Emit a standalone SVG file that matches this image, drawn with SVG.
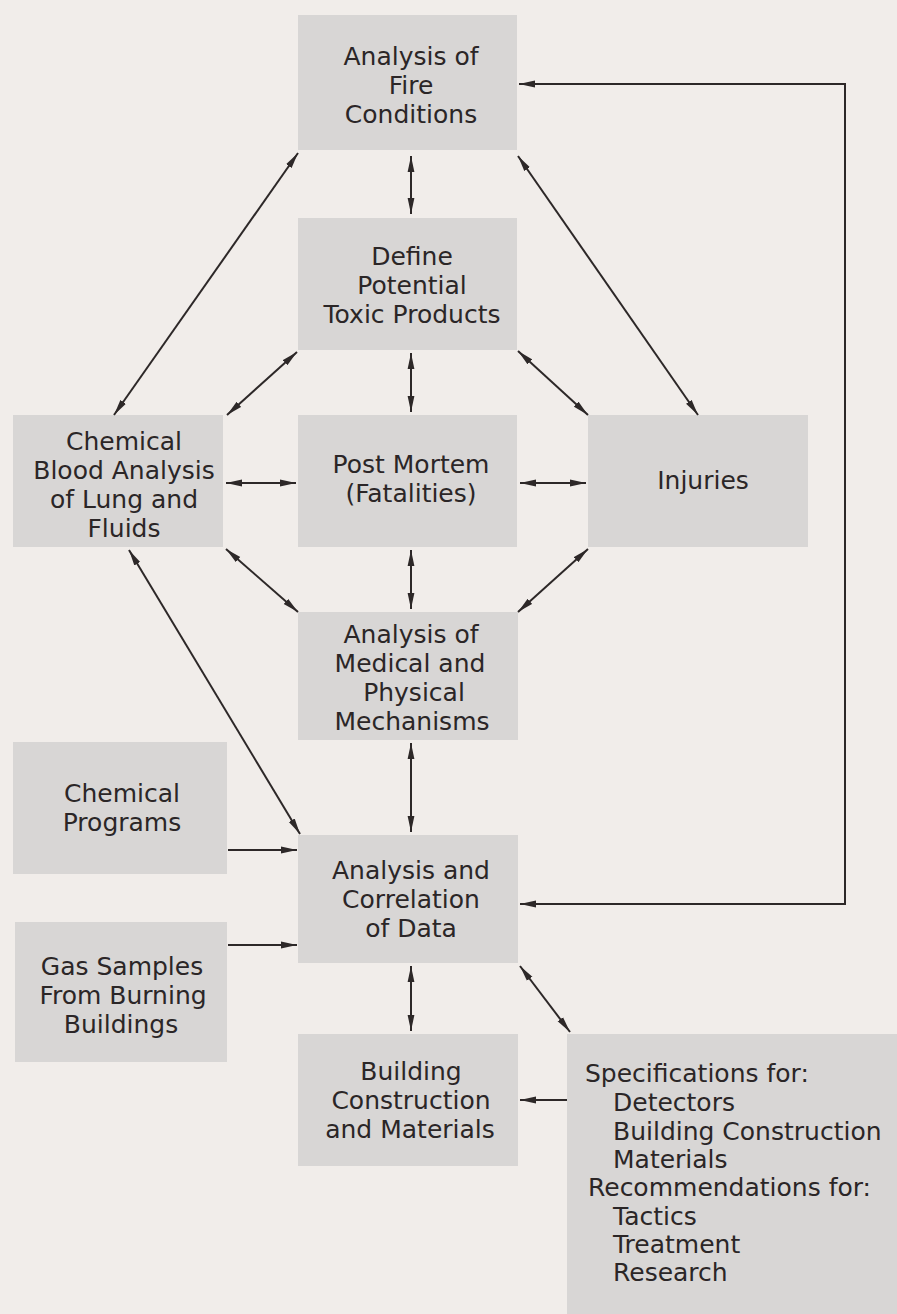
<svg xmlns="http://www.w3.org/2000/svg" width="897" height="1314" viewBox="0 0 897 1314">
<defs>
<marker id="ah" viewBox="0 0 16 8" refX="16" refY="4" markerWidth="16" markerHeight="8" markerUnits="userSpaceOnUse" orient="auto-start-reverse">
<path d="M0,0.6 L16,4 L0,7.4 z" fill="#2d2828"/>
</marker>
</defs>
<style>
.box{fill:#d8d6d5}
text{font-family:"DejaVu Sans",sans-serif;font-size:25px;fill:#2b2627}
.c{text-anchor:middle}
.ln{fill:none;stroke:#2d2828;stroke-width:2}
.d{marker-start:url(#ah);marker-end:url(#ah)}
.s{marker-end:url(#ah)}
</style>
<rect width="897" height="1314" fill="#f1edea"/>
<g id="fire">
<rect class="box" x="298" y="15" width="219" height="135"/>
<text class="c" x="411" y="65">Analysis of</text>
<text class="c" x="411" y="94">Fire</text>
<text class="c" x="411" y="123">Conditions</text>
</g>
<g id="define">
<rect class="box" x="298" y="218" width="219" height="132"/>
<text class="c" x="412" y="265">Define</text>
<text class="c" x="412" y="294">Potential</text>
<text class="c" x="412" y="323">Toxic Products</text>
</g>
<g id="blood">
<rect class="box" x="13" y="415" width="210" height="132"/>
<text class="c" x="124" y="450">Chemical</text>
<text class="c" x="124" y="479">Blood Analysis</text>
<text class="c" x="124" y="508">of Lung and</text>
<text class="c" x="124" y="537">Fluids</text>
</g>
<g id="postmortem">
<rect class="box" x="298" y="415" width="219" height="132"/>
<text class="c" x="411" y="473">Post Mortem</text>
<text class="c" x="411" y="502">(Fatalities)</text>
</g>
<g id="injuries">
<rect class="box" x="588" y="415" width="220" height="132"/>
<text class="c" x="703" y="489">Injuries</text>
</g>
<g id="medical">
<rect class="box" x="298" y="612" width="220" height="128"/>
<text class="c" x="411" y="643">Analysis of</text>
<text class="c" x="410" y="672">Medical and</text>
<text class="c" x="414" y="701">Physical</text>
<text class="c" x="412" y="730">Mechanisms</text>
</g>
<g id="chemprog">
<rect class="box" x="13" y="742" width="214" height="132"/>
<text class="c" x="122" y="802">Chemical</text>
<text class="c" x="122" y="831">Programs</text>
</g>
<g id="gas">
<rect class="box" x="15" y="922" width="212" height="140"/>
<text class="c" x="122" y="975">Gas Samples</text>
<text class="c" x="123" y="1004">From Burning</text>
<text class="c" x="121" y="1033">Buildings</text>
</g>
<g id="correlation">
<rect class="box" x="298" y="835" width="220" height="128"/>
<text class="c" x="411" y="879">Analysis and</text>
<text class="c" x="411" y="908">Correlation</text>
<text class="c" x="411" y="937">of Data</text>
</g>
<g id="building">
<rect class="box" x="298" y="1034" width="220" height="132"/>
<text class="c" x="411" y="1080">Building</text>
<text class="c" x="411" y="1109">Construction</text>
<text class="c" x="410" y="1138">and Materials</text>
</g>
<g id="specs">
<rect class="box" x="567" y="1034" width="330" height="280"/>
<text x="585" y="1082">Specifications for:</text>
<text x="613" y="1111">Detectors</text>
<text x="613" y="1140">Building Construction</text>
<text x="613" y="1168">Materials</text>
<text x="588" y="1196">Recommendations for:</text>
<text x="613" y="1225">Tactics</text>
<text x="613" y="1253">Treatment</text>
<text x="613" y="1281">Research</text>
</g>
<g id="connectors">
<path class="ln d" d="M411,156 V214"/>
<path class="ln d" d="M411,353 V412"/>
<path class="ln d" d="M411,550 V609"/>
<path class="ln d" d="M411,743 V832"/>
<path class="ln d" d="M411,966 V1031"/>
<path class="ln d" d="M226,483 H296"/>
<path class="ln d" d="M520,483 H586"/>
<path class="ln d" d="M298,153 L114,415"/>
<path class="ln d" d="M297,352 L227,415"/>
<path class="ln d" d="M518,156 L698,415"/>
<path class="ln d" d="M518,351 L588,415"/>
<path class="ln d" d="M226,549 L298,612"/>
<path class="ln d" d="M588,549 L518,612"/>
<path class="ln d" d="M129,550 L300,834"/>
<path class="ln d" d="M520,966 L570,1032"/>
<path class="ln s" d="M228,850 H297"/>
<path class="ln s" d="M228,945 H297"/>
<path class="ln s" d="M567,1100 H520"/>
<path class="ln d" d="M519,84 H845 V904 H520"/>
</g>
</svg>
